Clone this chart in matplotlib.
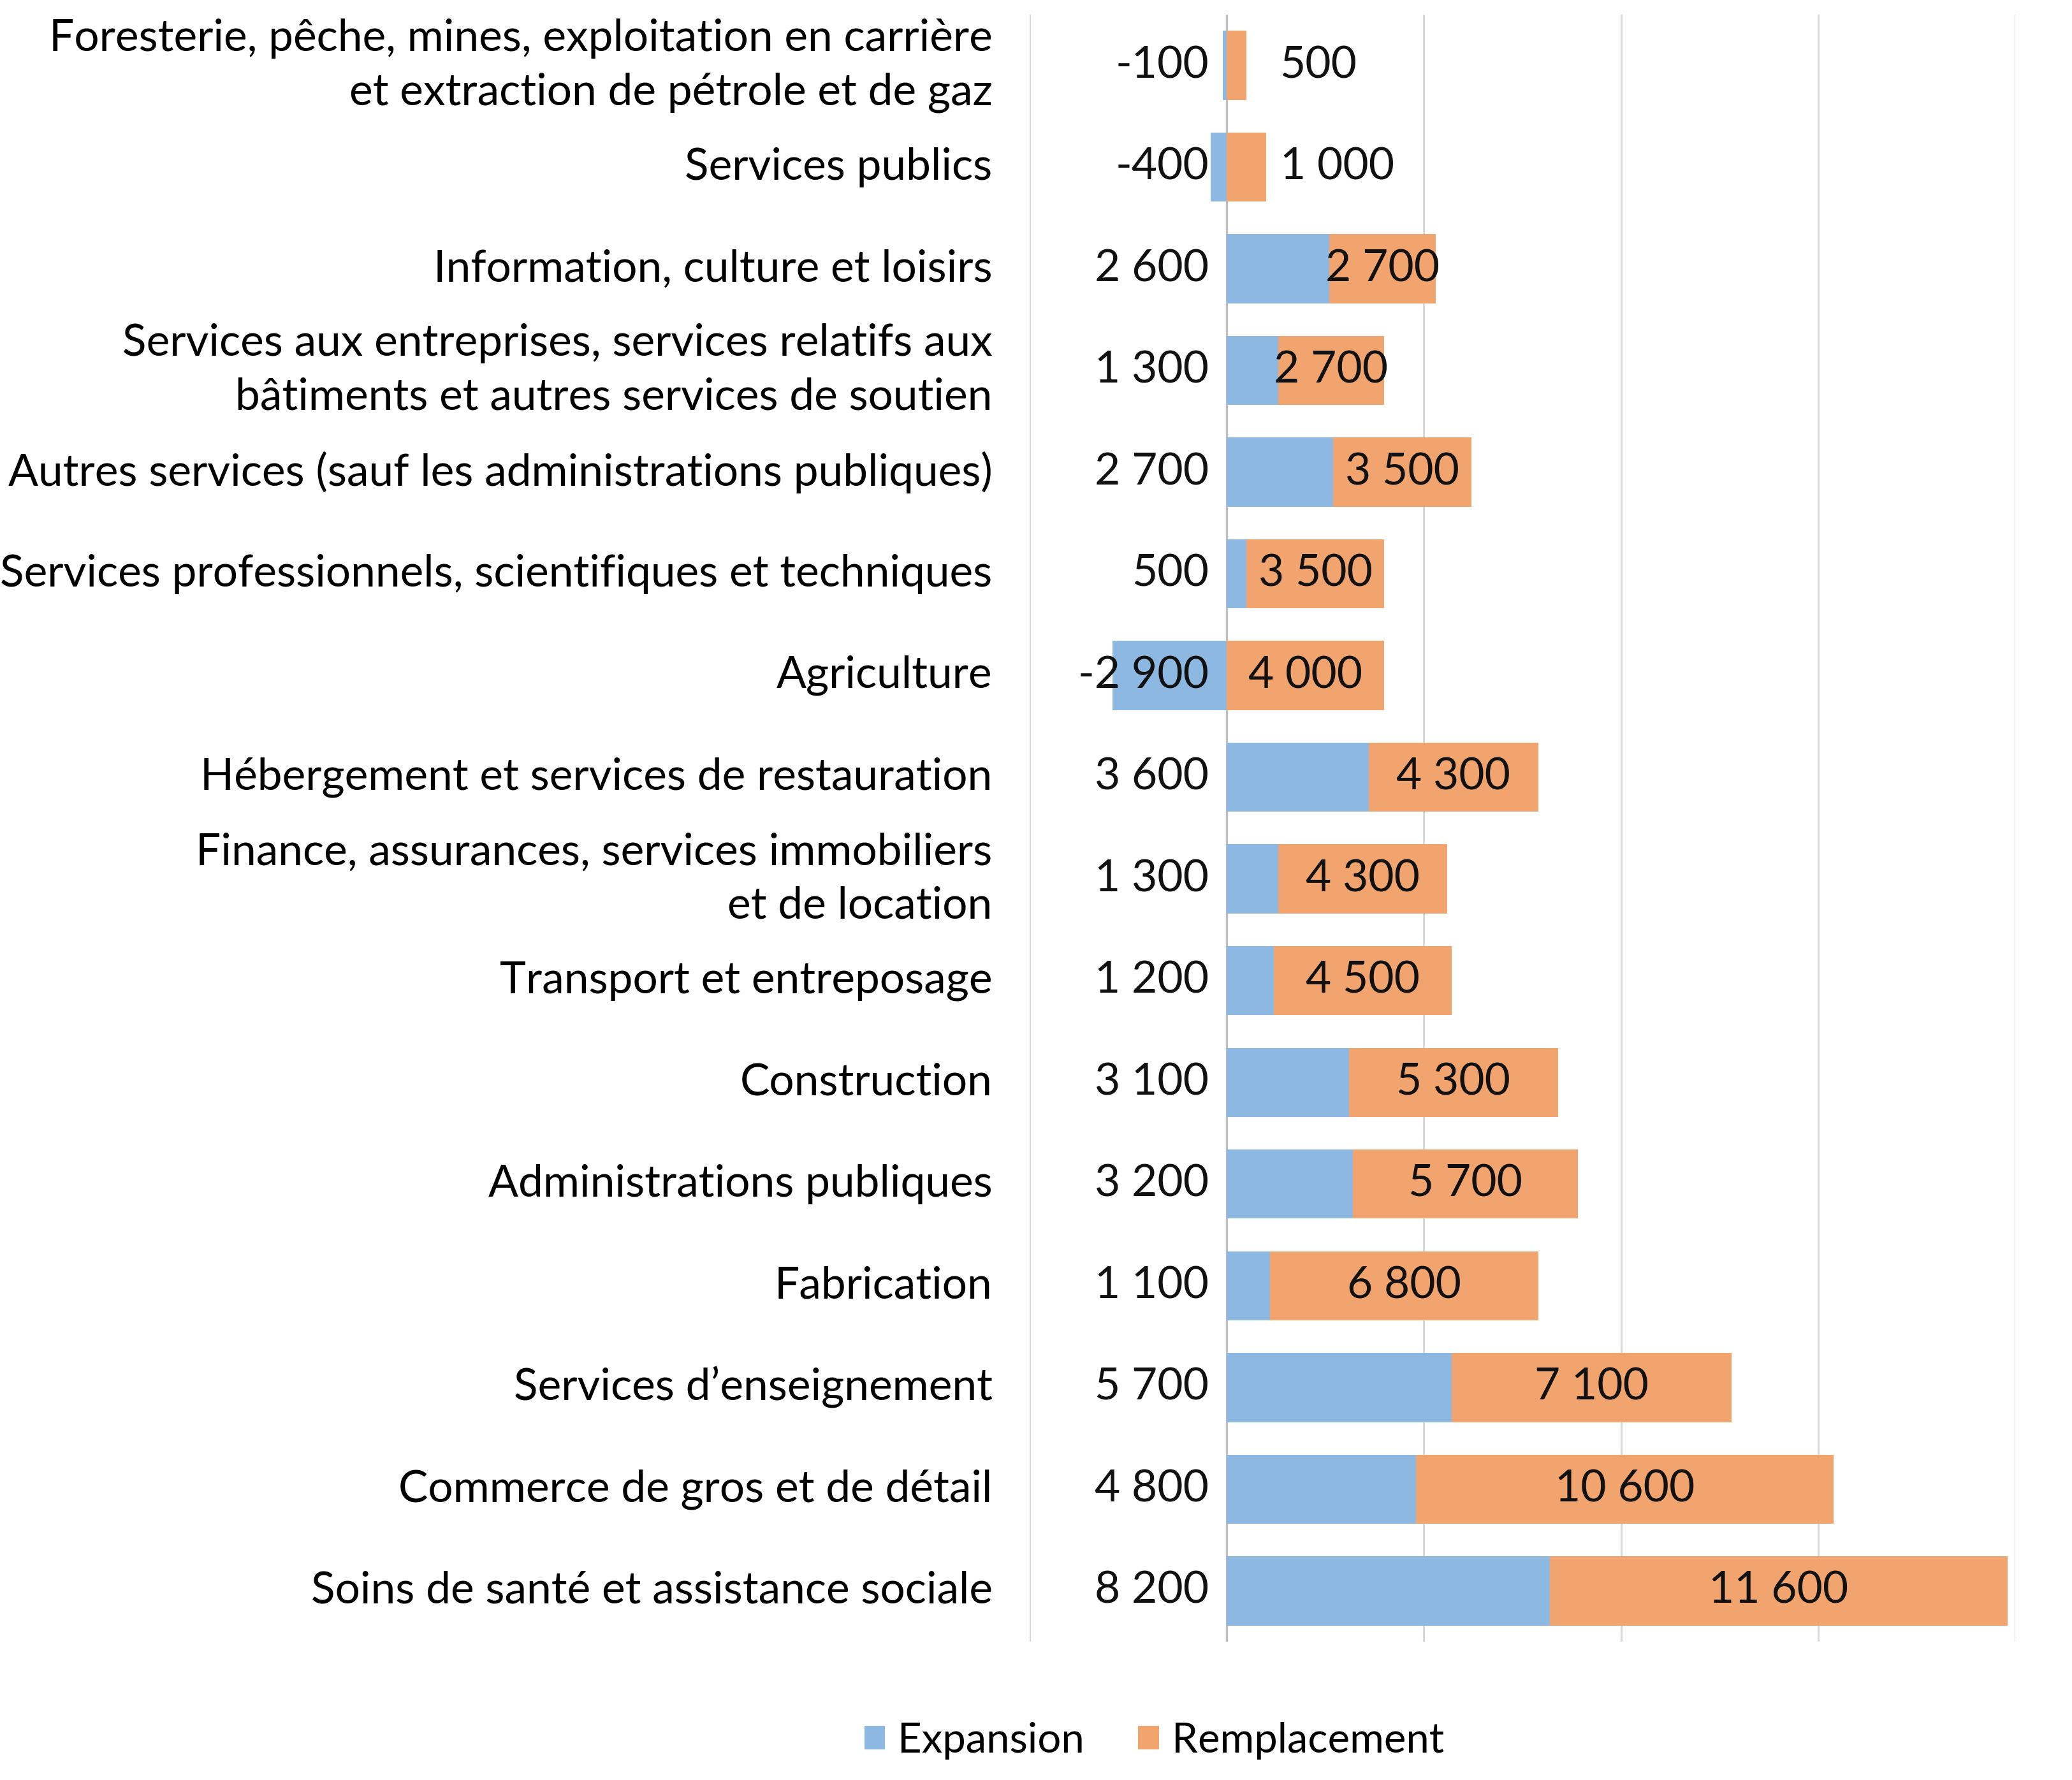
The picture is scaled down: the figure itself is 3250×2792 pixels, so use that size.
import matplotlib.pyplot as plt

categories = [
    "Foresterie, pêche, mines, exploitation en carrière\net extraction de pétrole et de gaz",
    "Services publics",
    "Information, culture et loisirs",
    "Services aux entreprises, services relatifs aux\nbâtiments et autres services de soutien",
    "Autres services (sauf les administrations publiques)",
    "Services professionnels, scientifiques et techniques",
    "Agriculture",
    "Hébergement et services de restauration",
    "Finance, assurances, services immobiliers\net de location",
    "Transport et entreposage",
    "Construction",
    "Administrations publiques",
    "Fabrication",
    "Services d’enseignement",
    "Commerce de gros et de détail",
    "Soins de santé et assistance sociale",
]
expansion = [-100, -400, 2600, 1300, 2700, 500, -2900, 3600, 1300, 1200, 3100, 3200, 1100, 5700, 4800, 8200]
remplacement = [500, 1000, 2700, 2700, 3500, 3500, 4000, 4300, 4300, 4500, 5300, 5700, 6800, 7100, 10600, 11600]

blue = "#8db8e2"
orange = "#f2a46e"
lab_font = "Lato"

def fmt(v):
    s = "{:,}".format(abs(v)).replace(",", " ")
    return "-" + s if v < 0 else s

fig = plt.figure(figsize=(32.5, 27.92), dpi=100)
ax = fig.add_axes([0.4969, 0.0777, 0.4757, 0.9141])

y = list(range(len(categories)))
starts = [max(0, e) for e in expansion]
ax.barh(y, expansion, height=0.68, color=blue, label="Expansion", zorder=2)
ax.barh(y, remplacement, left=starts, height=0.68, color=orange, label="Remplacement", zorder=2)

for i in y:
    ax.text(-450, i, fmt(expansion[i]), ha="right", va="center",
            fontsize=50, family=lab_font, color="#111111", zorder=3)
    if remplacement[i] < 1500:
        ax.text(1350, i, fmt(remplacement[i]), ha="left", va="center",
                fontsize=50, family=lab_font, color="#111111", zorder=3)
    else:
        ax.text(starts[i] + remplacement[i] / 2, i, fmt(remplacement[i]), ha="center", va="center",
                fontsize=50, family=lab_font, color="#111111", zorder=3)

ax.set_xlim(-5000, 20000)
ax.set_ylim(15.5, -0.5)
ax.set_xticks([-5000, 5000, 10000, 15000, 20000])
ax.xaxis.grid(True, color="#d9d9d9", linewidth=2.2, zorder=0)
ax.axvline(0, color="#bfbfbf", linewidth=2.4, zorder=1)
ax.set_xticklabels([])
ax.tick_params(axis="x", length=0)
ax.set_yticks(y)
ax.set_yticklabels(categories, fontsize=50, family=lab_font, linespacing=1.42)
for lab in ax.get_yticklabels():
    lab.set_va("center")
ax.tick_params(axis="y", length=0, pad=42)
for s in ax.spines.values():
    s.set_visible(False)

fig.legend(loc="center", bbox_to_anchor=(0.557, 0.0222), ncol=2, frameon=False,
           prop={"family": lab_font, "size": 47}, handlelength=0.5, handleheight=0.5,
           handletextpad=0.3, columnspacing=1.3)

plt.savefig("out.png", dpi=100)
